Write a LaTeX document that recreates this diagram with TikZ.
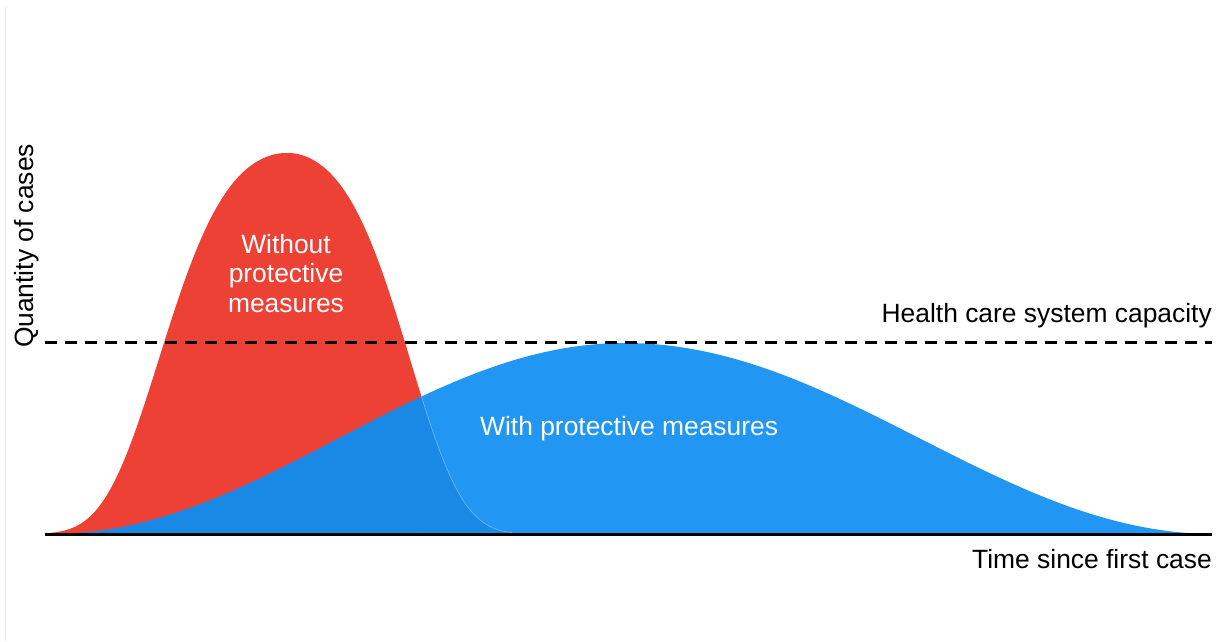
\documentclass[tikz,border=0pt]{standalone}
\usepackage{fontspec}
\setmainfont{Liberation Sans}
\usetikzlibrary{positioning}
\definecolor{redfill}{RGB}{238,65,53}
\definecolor{bluefill}{RGB}{33,150,243}
\definecolor{overlapfill}{RGB}{26,137,229}
\tikzset{
axis/.style = {draw=black, line width=3pt},
capline/.style = {draw=black, line width=3pt, dash pattern=on 12pt off 8pt},
txt/.style = {inner sep=0pt, font=\fontsize{26.4}{29.5}\selectfont},
wtxt/.style = {txt, text=white, align=center},
seam/.style = {draw=white, opacity=0.35, line width=0.7pt},
declare function={
  redq(\t) = (abs(\t-287)/((\t<287)?100:96))^2;
  redh(\t) = 381*exp(-0.24*redq(\t)-0.1427*redq(\t)*redq(\t));
  blueh(\t) = 95.5*(1+cos((\t-625)/((\t<625)?573:590)*180));
}
}
\newcommand\redcurve{plot[domain=47:512, samples=160] (\x, {534-redh(\x)})}
\newcommand\bluecurve{plot[domain=50:1212, samples=200] (\x, {534-blueh(\x)})}
\begin{document}
\begin{tikzpicture}[x=1pt, y=-1pt]
    \useasboundingbox (0,0) rectangle (1222,641);
    \draw[gray!18, line width=1pt] (5.5,7) -- (5.5,641);

    \fill[redfill] \redcurve -- cycle;
    \fill[bluefill] \bluecurve -- cycle;
    \begin{scope}
      \clip \redcurve -- cycle;
      \fill[overlapfill] \bluecurve -- cycle;
    \end{scope}
    \begin{scope}
      \clip \bluecurve -- cycle;
      \draw[seam] \redcurve;
    \end{scope}

    \coordinate (capstart) at (45,342);
    \coordinate (capend) at (1212,342);
    \draw[capline] (capstart) -- (capend);

    \coordinate (origin) at (45,534);
    \coordinate (tend) at (1212,534);
    \draw[axis] (origin) -- (tend);

    \node[txt, anchor=base east] (capacity) at (1212,322) {Health care system capacity};
    \node[txt, anchor=base east] (time) at (1212,568) {Time since first case};
    \node[txt, anchor=base, rotate=90] (cases) at (33,246) {Quantity of cases};
    \node[wtxt, anchor=north] (without) at (286,234) {Without\\protective\\measures};
    \node[wtxt, anchor=base west] (with) at (480,435) {With protective measures};
\end{tikzpicture}
\end{document}
